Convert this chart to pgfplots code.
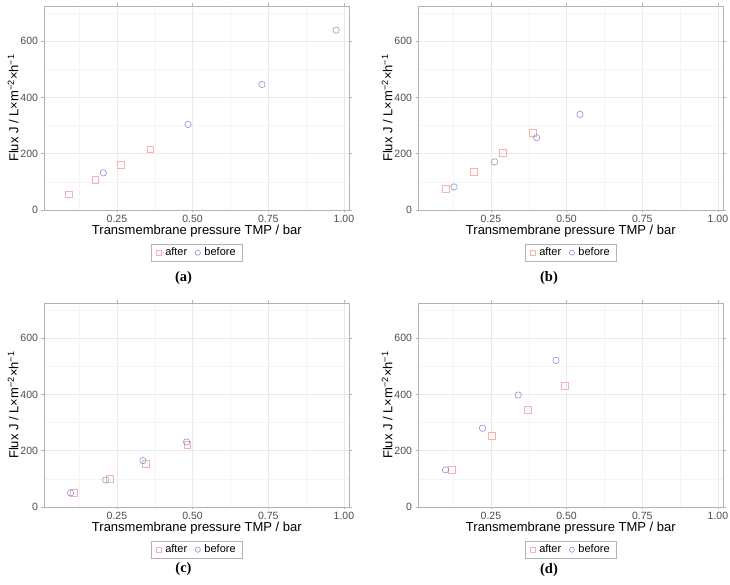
\documentclass[border=0pt]{standalone}
\usepackage{fontspec}
\setmainfont{Liberation Sans}
\newfontfamily\capfont{Liberation Serif}
\usepackage{pgfplots}
\pgfplotsset{compat=1.18}
\definecolor{aftercol}{RGB}{246,178,174}
\definecolor{beforecol}{RGB}{128,128,214}
\definecolor{framecol}{RGB}{179,179,179}
\definecolor{tickcol}{RGB}{77,77,77}
\definecolor{gridmaj}{RGB}{234,234,234}
\definecolor{gridmin}{RGB}{244,244,244}
\pgfplotsset{
  panel/.style={
    scale only axis,
    width=305.7pt, height=204pt,
    anchor=south west,
    xmin=0.009, xmax=1.019, ymin=0, ymax=725,
    xtick={0.25,0.5,0.75,1}, xticklabels={0.25,0.50,0.75,1.00},
    ytick={0,200,400,600},
    minor xtick={0.125,0.375,0.625,0.875},
    minor ytick={100,300,500,700},
    grid=both,
    major grid style={gridmaj, line width=0.5pt},
    minor grid style={gridmin, line width=0.35pt},
    axis line style={framecol, line width=0.8pt},
    tick style={framecol, line width=0.5pt},
    tick align=outside, major tick length=2.5pt, minor tick length=0pt,
    /pgf/number format/assume math mode=true,
    ticklabel style={font=\fontsize{10.5}{12}\selectfont, text=tickcol},
    xticklabel style={yshift=1pt},
    xlabel={Transmembrane pressure TMP / bar},
    ylabel={Flux J / L×m\textsuperscript{−2}×h\textsuperscript{−1}},
    label style={font=\fontsize{13}{15}\selectfont},
    xlabel style={yshift=4pt},
    ylabel style={yshift=-5pt},
    legend columns=2,
    legend style={at={(0.5,-0.165)}, anchor=north, draw=framecol, line width=0.6pt,
      font=\fontsize{11}{13}\selectfont, inner xsep=5pt, inner ysep=2pt,
      /tikz/every odd column/.append style={column sep=2pt},
      /tikz/every even column/.append style={column sep=6pt}},
    legend image code/.code={\draw[mark size=2.6pt] plot coordinates {(0.12cm,0cm)};},
  },
  aft/.style={only marks, mark=square, mark size=3.4pt, mark options={draw=aftercol, line width=0.5pt}},
  bef/.style={only marks, mark=o, mark size=3.2pt, mark options={draw=beforecol, line width=0.5pt}},
}
\begin{document}
\begin{tikzpicture}
\useasboundingbox (0,0) rectangle (730pt,585pt);
% (a)
\begin{axis}[panel, at={(44pt,375pt)}]
\addplot[aft] coordinates {(0.091,56) (0.178,107) (0.263,160) (0.360,216)};
\addlegendentry{after}
\addplot[bef] coordinates {(0.205,132) (0.485,304) (0.729,446) (0.974,639)};
\addlegendentry{before}
\end{axis}
% (b)
\begin{axis}[panel, at={(418pt,375pt)}]
\addplot[aft] coordinates {(0.100,75) (0.194,135) (0.288,204) (0.387,274)};
\addlegendentry{after}
\addplot[bef] coordinates {(0.128,82) (0.262,171) (0.401,257) (0.544,340)};
\addlegendentry{before}
\end{axis}
% (c)
\begin{axis}[panel, at={(44pt,78pt)}]
\addplot[aft] coordinates {(0.106,52) (0.225,100) (0.345,155) (0.482,221)};
\addlegendentry{after}
\addplot[bef] coordinates {(0.097,50) (0.213,96) (0.336,165) (0.480,231)};
\addlegendentry{before}
\end{axis}
% (d)
\begin{axis}[panel, at={(418pt,78pt)}]
\addplot[aft] coordinates {(0.121,131) (0.252,252) (0.371,345) (0.494,432)};
\addlegendentry{after}
\addplot[bef] coordinates {(0.100,132) (0.222,280) (0.340,398) (0.465,521)};
\addlegendentry{before}
\end{axis}
\node[font=\capfont\bfseries\fontsize{14.5}{16}\selectfont] at (183.5pt,307pt) {(a)};
\node[font=\capfont\bfseries\fontsize{14.5}{16}\selectfont] at (549pt,307pt) {(b)};
\node[font=\capfont\bfseries\fontsize{14.5}{16}\selectfont] at (183.5pt,16pt) {(c)};
\node[font=\capfont\bfseries\fontsize{14.5}{16}\selectfont] at (549pt,15pt) {(d)};
\end{tikzpicture}
\end{document}
